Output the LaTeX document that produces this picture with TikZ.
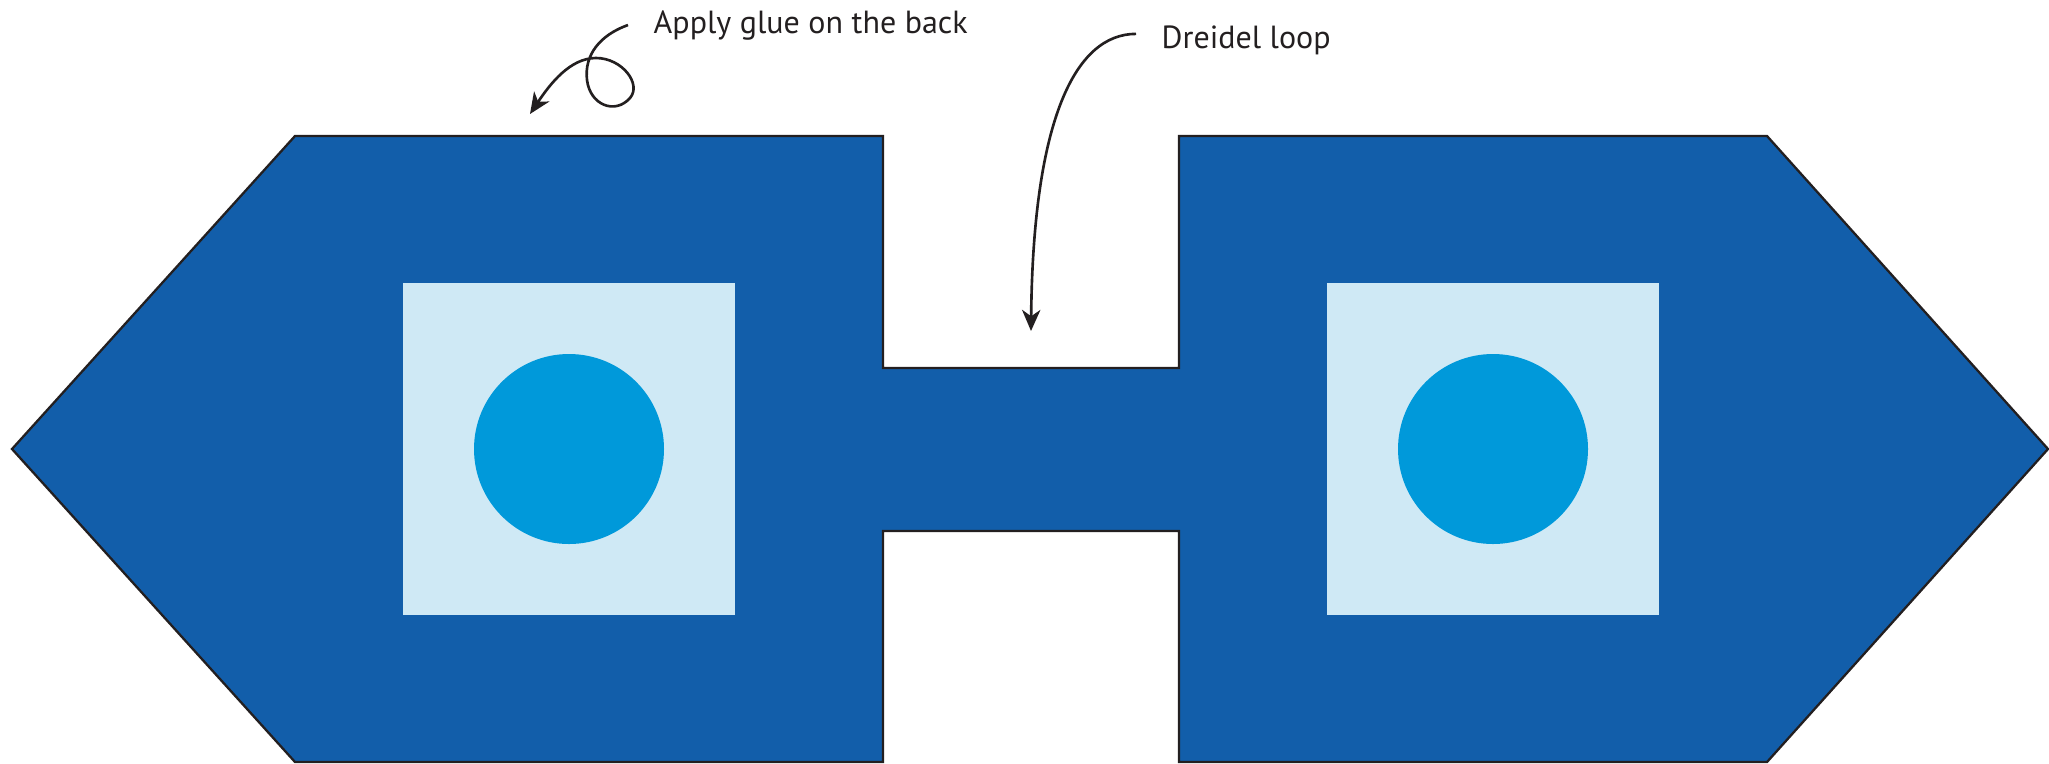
\documentclass[tikz,border=0pt]{standalone}
\usepackage{fontspec}
\setmainfont{PT Sans}
\usetikzlibrary{arrows.meta}
\definecolor{tabblue}{RGB}{18,94,170}
\definecolor{padblue}{RGB}{207,233,245}
\definecolor{dotblue}{RGB}{0,153,218}
\definecolor{inkline}{RGB}{35,31,32}
\begin{document}
\begin{tikzpicture}[x=0.01cm,y=-0.01cm,
  lbl/.style={inner xsep=0.25cm,inner ysep=0pt,anchor=base west,font=\fontsize{9.1}{11}\selectfont,text=inkline},
  pointer/.style={draw=inkline,line width=0.75pt,-{Stealth[length=6pt,width=5.2pt,inset=1.8pt]}}]
\useasboundingbox (0,0) rectangle (2049,763);
\draw [fill=tabblue,draw=inkline,line width=0.65pt]
  (12,449) -- (295,136) -- (883,136) -- (883,368) -- (1179,368) -- (1179,136)
  -- (1767,136) -- (2048,449) -- (1767,762) -- (1179,762) -- (1179,531)
  -- (883,531) -- (883,762) -- (295,762) -- cycle;
\fill [padblue] (403,283) rectangle (735,615);
\fill [padblue] (1327,283) rectangle (1659,615);
\fill [dotblue] (569,449) circle (95);
\fill [dotblue] (1493,449) circle (95);
\node [lbl] (glue) at (628,33) {Apply glue on the back};
\node [lbl] (dreidel) at (1136,48) {Dreidel loop};
\coordinate (gluetip) at (530,114);
\coordinate (looptip) at (1031,331);
\draw [pointer] (glue.west) .. controls (600,35) and (584,55) .. (587,80)
  .. controls (590,105) and (615,115) .. (630,98)
  .. controls (642,84) and (622,58) .. (596,58)
  .. controls (570,58) and (550,84) .. (gluetip);
\draw [pointer] ([yshift=0.06cm]dreidel.west) .. controls (1075,34) and (1033,120) .. (looptip);
\end{tikzpicture}
\end{document}
